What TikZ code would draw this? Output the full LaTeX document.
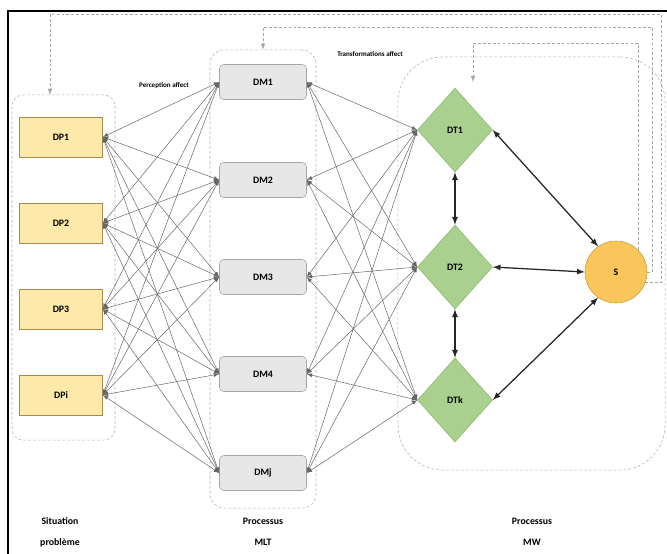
\documentclass[tikz,border=0pt]{standalone}
\usepackage{fontspec}
\setmainfont{Carlito}
\usetikzlibrary{shapes.geometric}
\definecolor{dpfill}{HTML}{FDE9A9}
\definecolor{dpline}{HTML}{A88A4A}
\definecolor{dmfill}{HTML}{E7E7E7}
\definecolor{dtfill}{HTML}{A9D08E}
\definecolor{dtline}{HTML}{8DB86F}
\definecolor{sfill}{HTML}{FAC55A}
\definecolor{sline}{HTML}{C9A040}
\begin{document}
\begin{tikzpicture}[x=0.025cm, y=-0.025cm,
    every node/.style={font=\fontsize{7}{8}\selectfont\bfseries, align=center},
    grp/.style={rectangle, draw=gray!60, dash pattern=on 2pt off 1.5pt, inner sep=0pt},
    dp/.style={rectangle, draw=dpline, fill=dpfill, minimum width=2.075cm, minimum height=1cm, inner sep=0pt},
    dm/.style={rectangle, rounded corners=3pt, draw=gray!70, fill=dmfill, minimum width=2.175cm, minimum height=0.875cm, inner sep=0pt},
    dt/.style={diamond, draw=dtline, fill=dtfill, minimum width=1.875cm, minimum height=2.1cm, inner sep=0pt},
    sn/.style={circle, draw=sline, fill=sfill, minimum size=1.55cm, inner sep=0pt},
    link/.style={latex-latex, gray!80!black, line width=0.35pt},
    duo/.style={latex-latex, black!85, line width=0.9pt},
    fb/.style={-latex, gray!70, dash pattern=on 2pt off 1.5pt, line width=0.5pt},
    note/.style={font=\fontsize{5}{6}\selectfont\bfseries}
]
\useasboundingbox (0,0) rectangle (667,554);
\draw[line width=1.2pt] (8,554) -- (8,11) -- (667,11);
\node[grp, rounded corners=8pt, minimum width=2.575cm, minimum height=8.625cm] (grpP) at (63.5,267.5) {};
\node[grp, rounded corners=10pt, minimum width=2.65cm, minimum height=11.45cm] (grpM) at (263,279) {};
\node[grp, rounded corners=32pt, minimum width=6.675cm, minimum height=10.325cm] (grpW) at (531.5,263.5) {};
\node[dp] (dp1) at (61,137) {DP1};
\node[dp] (dp2) at (61,223) {DP2};
\node[dp] (dp3) at (61,309) {DP3};
\node[dp] (dpi) at (61,395) {DPi};
\node[dm] (dm1) at (263,82)  {DM1};
\node[dm] (dm2) at (263,180) {DM2};
\node[dm] (dm3) at (263,277) {DM3};
\node[dm] (dm4) at (263,374) {DM4};
\node[dm] (dmj) at (263,473) {DMj};
\node[dt] (dt1) at (455,130) {DT1};
\node[dt] (dt2) at (455,267) {DT2};
\node[dt] (dtk) at (455,400) {DTk};
\node[sn] (s) at (616,272) {S};
\node[note] (pa) at (164,86) {Perception affect};
\node[note] (ta) at (370,54) {Transformations affect};
\node (lsp) at (60,532)  {Situation\\[7pt]problème};
\node (lmlt) at (263,532) {Processus\\[7pt]MLT};
\node (lmw) at (532,532) {Processus\\[7pt]MW};
\draw[link] (dp1.east) -- (dm1.west);
\draw[link] (dp1.east) -- (dm2.west);
\draw[link] (dp1.east) -- (dm3.west);
\draw[link] (dp1.east) -- (dm4.west);
\draw[link] (dp1.east) -- (dmj.west);
\draw[link] (dp2.east) -- (dm1.west);
\draw[link] (dp2.east) -- (dm2.west);
\draw[link] (dp2.east) -- (dm3.west);
\draw[link] (dp2.east) -- (dm4.west);
\draw[link] (dp2.east) -- (dmj.west);
\draw[link] (dp3.east) -- (dm1.west);
\draw[link] (dp3.east) -- (dm2.west);
\draw[link] (dp3.east) -- (dm3.west);
\draw[link] (dp3.east) -- (dm4.west);
\draw[link] (dp3.east) -- (dmj.west);
\draw[link] (dpi.east) -- (dm1.west);
\draw[link] (dpi.east) -- (dm2.west);
\draw[link] (dpi.east) -- (dm3.west);
\draw[link] (dpi.east) -- (dm4.west);
\draw[link] (dpi.east) -- (dmj.west);
\draw[link] (dt1.west) -- (dm1.east);
\draw[link] (dt1.west) -- (dm2.east);
\draw[link] (dt1.west) -- (dm3.east);
\draw[link] (dt1.west) -- (dm4.east);
\draw[link] (dt1.west) -- (dmj.east);
\draw[link] (dt2.west) -- (dm1.east);
\draw[link] (dt2.west) -- (dm2.east);
\draw[link] (dt2.west) -- (dm3.east);
\draw[link] (dt2.west) -- (dm4.east);
\draw[link] (dt2.west) -- (dmj.east);
\draw[link] (dtk.west) -- (dm1.east);
\draw[link] (dtk.west) -- (dm2.east);
\draw[link] (dtk.west) -- (dm3.east);
\draw[link] (dtk.west) -- (dm4.east);
\draw[link] (dtk.west) -- (dmj.east);
\draw[duo] (dt1.south) -- (dt2.north);
\draw[duo] (dt2.south) -- (dtk.north);
\draw[duo] (dt1.east) -- (s.125);
\draw[duo] (dt2.east) -- (s.west);
\draw[duo] (dtk.east) -- (s.235);
\coordinate (inW) at (473,82);
\coordinate (inP) at (50,95);
\draw[fb] (s.45) |- (473,43) -- (inW);
\draw[fb] (s.east) -| (652,27) -| (grpM.north);
\draw[fb] (s.-20) -| (661,14) -| (inP);
\end{tikzpicture}
\end{document}
